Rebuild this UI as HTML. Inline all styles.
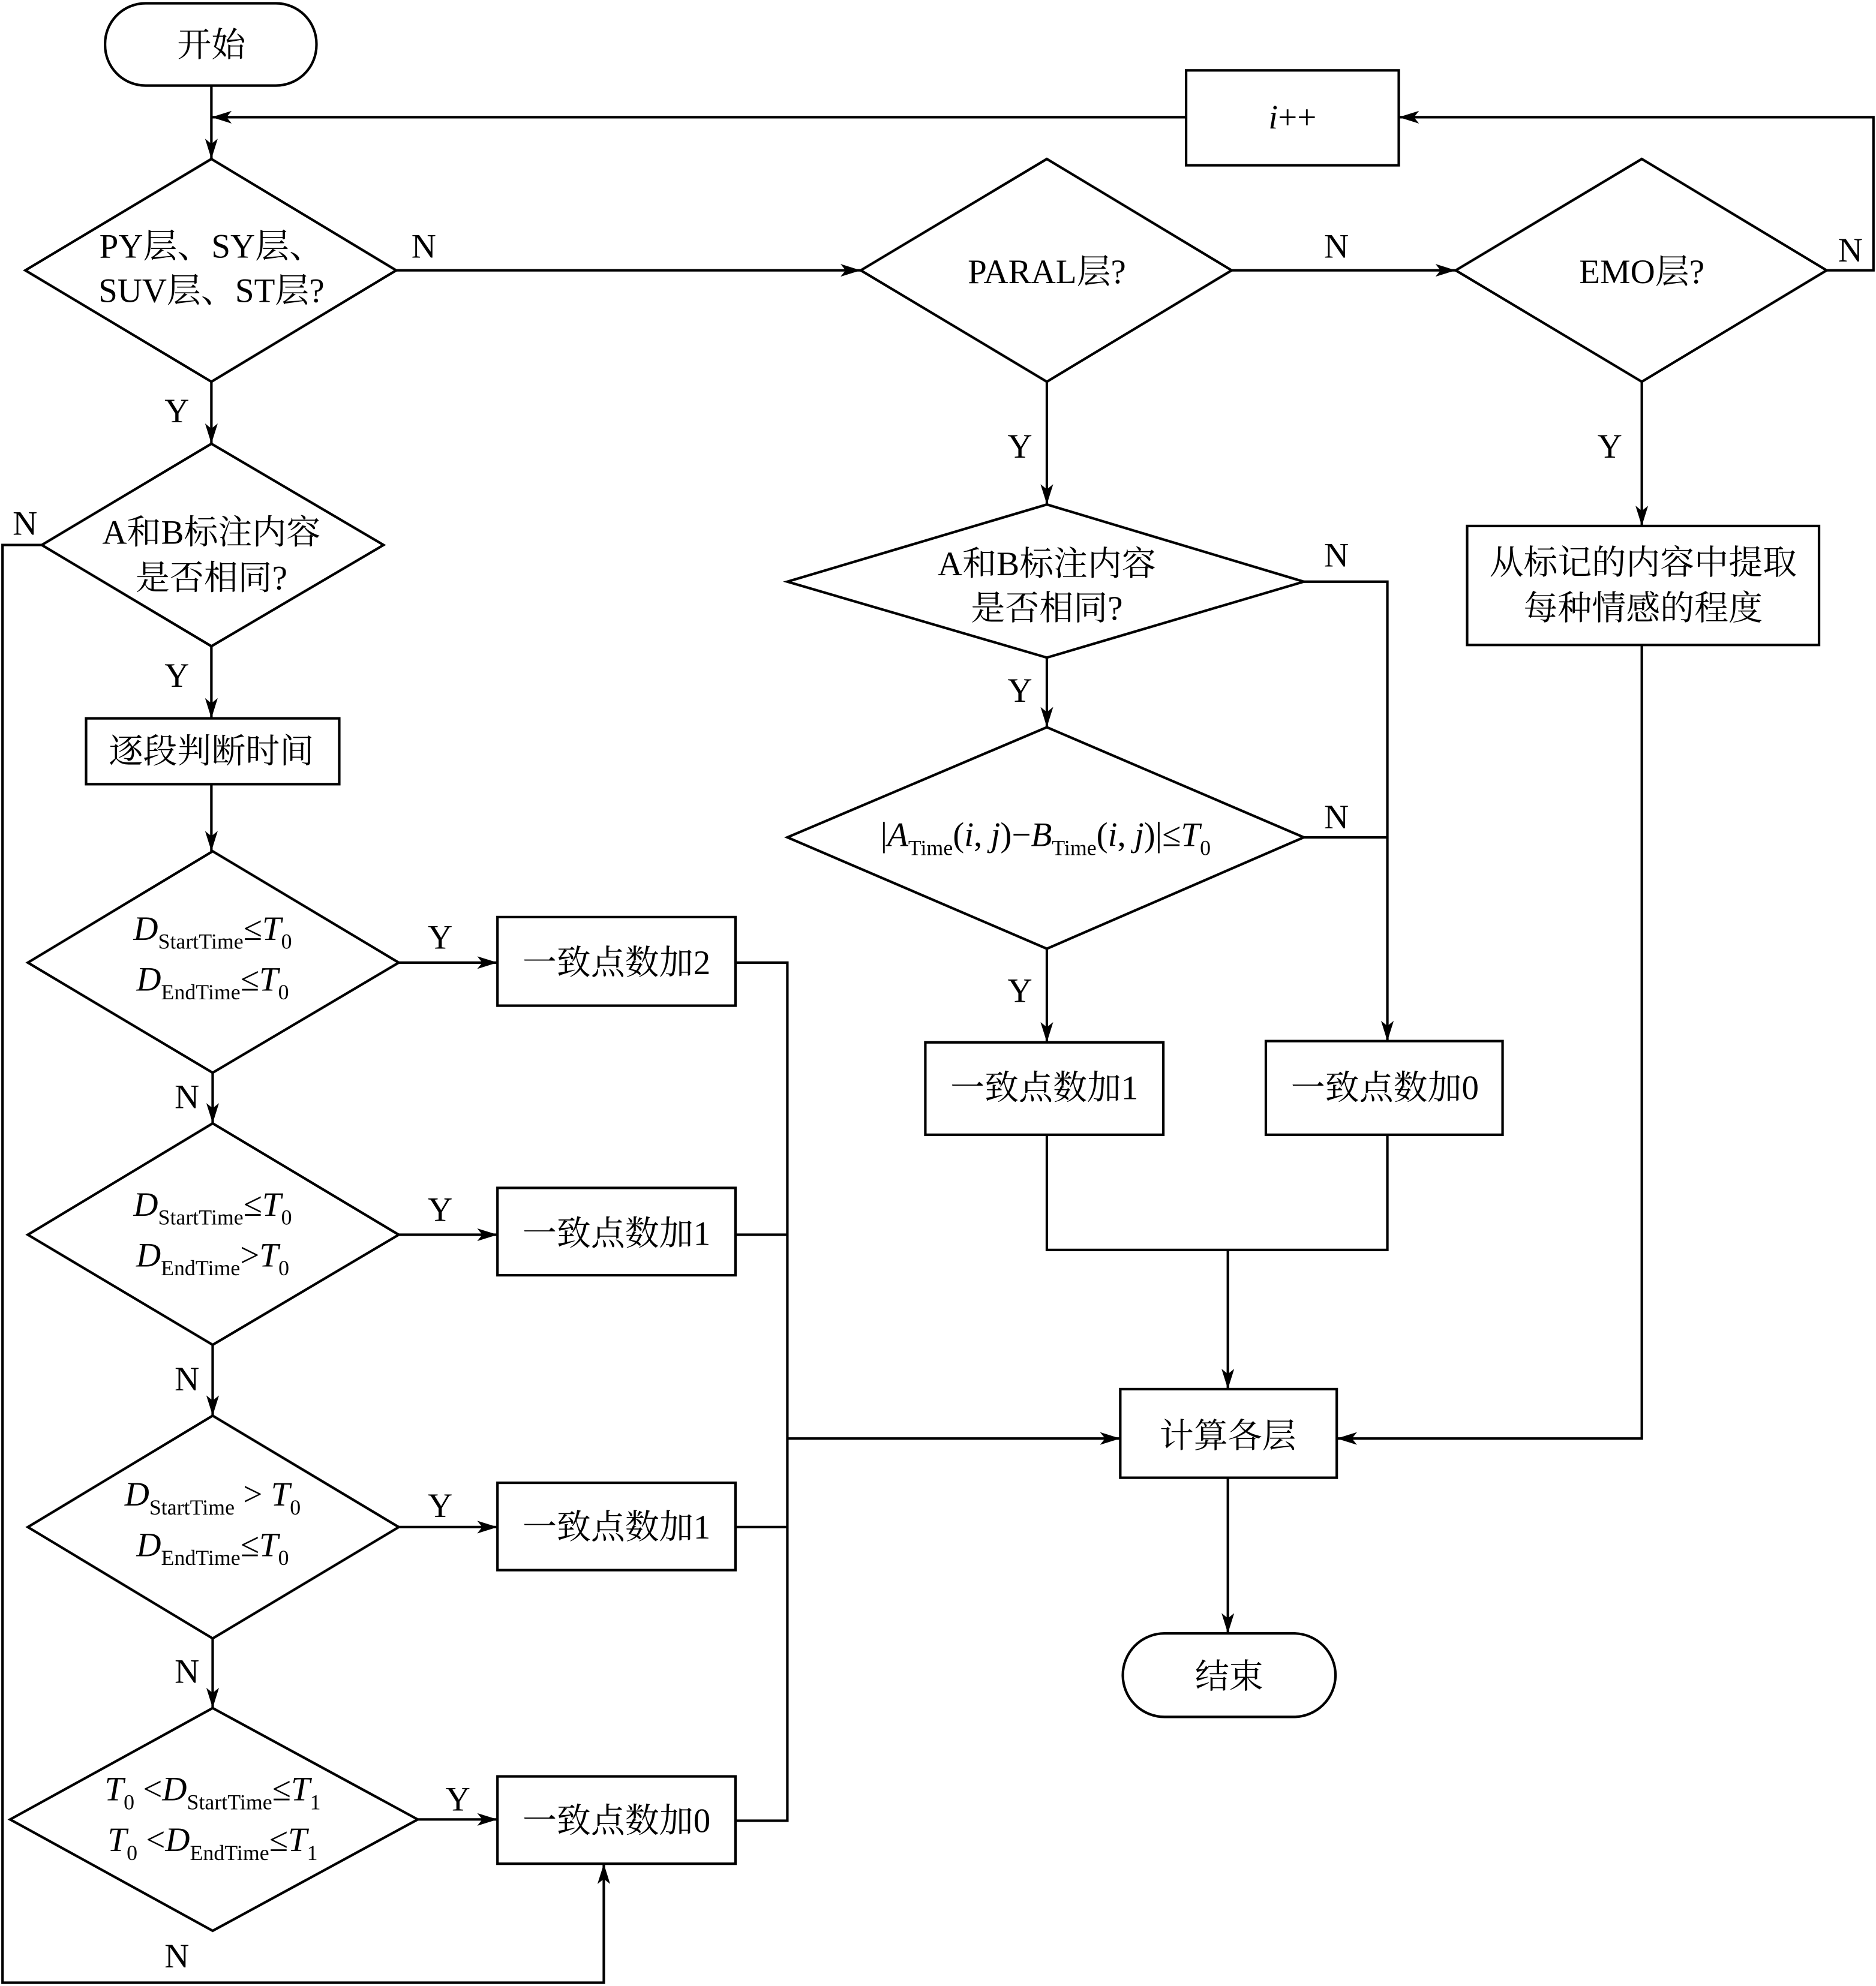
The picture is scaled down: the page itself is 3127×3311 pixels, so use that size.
<!DOCTYPE html>
<html><head><meta charset="utf-8"><style>
html,body{margin:0;padding:0;background:#fff}
svg{display:block}
text{font-family:"Liberation Serif","Noto Serif CJK SC",serif;font-size:27px;fill:#000}
</style></head><body>
<svg width="3127" height="3311" viewBox="0 0 1482 1568" xmlns="http://www.w3.org/2000/svg">
<defs><marker id="a" markerWidth="16" markerHeight="10" refX="16" refY="5" orient="auto" markerUnits="userSpaceOnUse"><path d="M0,0 L16,5 L0,10 L4,5 z" fill="#000"/></marker></defs>
<g fill="none" stroke="#000" stroke-width="2">
<rect x="83" y="2" width="167" height="65" rx="32"/>
<rect x="887" y="1290" width="168" height="66" rx="33"/>
<rect x="937" y="55" width="168" height="75"/>
<rect x="68" y="567" width="200" height="52"/>
<rect x="393" y="724" width="188" height="70"/>
<rect x="393" y="938" width="188" height="69"/>
<rect x="393" y="1171" width="188" height="69"/>
<rect x="393" y="1403" width="188" height="69"/>
<rect x="731" y="823" width="188" height="73"/>
<rect x="1000" y="822" width="187" height="74"/>
<rect x="1159" y="415" width="278" height="94"/>
<rect x="885" y="1097" width="171" height="70"/>
<polygon points="167,125 313,213 167,301 20,213"/>
<polygon points="827,125 973,213 827,301 680,213"/>
<polygon points="1297,125 1443,213 1297,301 1150,213"/>
<polygon points="167,350 303,430 167,510 33,430"/>
<polygon points="168,672 315,760 168,847 22,760"/>
<polygon points="168,887 315,975 168,1062 22,975"/>
<polygon points="168,1118 315,1206 168,1294 22,1206"/>
<polygon points="168,1349 330,1437 168,1525 8,1437"/>
<polygon points="827,398 1030,459 827,519 622,459"/>
<polygon points="827,574 1030,661 827,749 622,661"/>
</g>
<g fill="none" stroke="#000" stroke-width="2">
<line x1="167" y1="67" x2="167" y2="125" marker-end="url(#a)"/>
<line x1="937" y1="92" x2="167" y2="92" marker-end="url(#a)"/>
<polyline points="1443,213 1480,213 1480,92 1105,92" marker-end="url(#a)"/>
<line x1="313" y1="213" x2="680" y2="213" marker-end="url(#a)"/>
<line x1="973" y1="213" x2="1150" y2="213" marker-end="url(#a)"/>
<line x1="167" y1="301" x2="167" y2="350" marker-end="url(#a)"/>
<polyline points="33,430 2,430 2,1566 477,1566 477,1472" marker-end="url(#a)"/>
<line x1="167" y1="510" x2="167" y2="567" marker-end="url(#a)"/>
<line x1="167" y1="619" x2="167" y2="672" marker-end="url(#a)"/>
<line x1="315" y1="760" x2="393" y2="760" marker-end="url(#a)"/>
<line x1="315" y1="975" x2="393" y2="975" marker-end="url(#a)"/>
<line x1="315" y1="1206" x2="393" y2="1206" marker-end="url(#a)"/>
<line x1="330" y1="1437" x2="393" y2="1437" marker-end="url(#a)"/>
<line x1="168" y1="847" x2="168" y2="887" marker-end="url(#a)"/>
<line x1="168" y1="1062" x2="168" y2="1118" marker-end="url(#a)"/>
<line x1="168" y1="1294" x2="168" y2="1349" marker-end="url(#a)"/>
<polyline points="581,760 622,760 622,1438 581,1438"/>
<line x1="581" y1="975" x2="622" y2="975"/>
<line x1="581" y1="1206" x2="622" y2="1206"/>
<line x1="622" y1="1136" x2="885" y2="1136" marker-end="url(#a)"/>
<line x1="827" y1="301" x2="827" y2="398" marker-end="url(#a)"/>
<line x1="827" y1="519" x2="827" y2="574" marker-end="url(#a)"/>
<line x1="827" y1="749" x2="827" y2="823" marker-end="url(#a)"/>
<polyline points="1030,459 1096,459 1096,822" marker-end="url(#a)"/>
<line x1="1030" y1="661" x2="1096" y2="661"/>
<polyline points="827,896 827,987 1096,987 1096,896"/>
<line x1="970" y1="987" x2="970" y2="1097" marker-end="url(#a)"/>
<line x1="1297" y1="301" x2="1297" y2="415" marker-end="url(#a)"/>
<polyline points="1297,509 1297,1136 1056,1136" marker-end="url(#a)"/>
<line x1="970" y1="1167" x2="970" y2="1290" marker-end="url(#a)"/>
</g>
<g text-anchor="middle">
<text x="167" y="44">开始</text>
<text x="971" y="1333">结束</text>
<text x="1021" y="101" font-style="italic">i<tspan font-style="normal">++</tspan></text>
<text x="167" y="203">PY层、SY层、</text>
<text x="167" y="238">SUV层、ST层?</text>
<text x="827" y="223">PARAL层?</text>
<text x="1297" y="223">EMO层?</text>
<text x="167" y="429">A和B标注内容</text>
<text x="167" y="465">是否相同?</text>
<text x="827" y="454">A和B标注内容</text>
<text x="827" y="489">是否相同?</text>
<text x="167" y="602">逐段判断时间</text>
<text x="487" y="769">一致点数加2</text>
<text x="487" y="983">一致点数加1</text>
<text x="487" y="1215">一致点数加1</text>
<text x="487" y="1447">一致点数加0</text>
<text x="825" y="868">一致点数加1</text>
<text x="1094" y="868">一致点数加0</text>
<text x="1298" y="453">从标记的内容中提取</text>
<text x="1298" y="489">每种情感的程度</text>
<text x="970" y="1143">计算各层</text>
<text x="168" y="742"><tspan font-style="italic">D</tspan><tspan font-size="17" dy="7">StartTime</tspan><tspan dy="-7">≤</tspan><tspan font-style="italic">T</tspan><tspan font-size="17" dy="7">0</tspan></text>
<text x="168" y="782"><tspan font-style="italic">D</tspan><tspan font-size="17" dy="7">EndTime</tspan><tspan dy="-7">≤</tspan><tspan font-style="italic">T</tspan><tspan font-size="17" dy="7">0</tspan></text>
<text x="168" y="960"><tspan font-style="italic">D</tspan><tspan font-size="17" dy="7">StartTime</tspan><tspan dy="-7">≤</tspan><tspan font-style="italic">T</tspan><tspan font-size="17" dy="7">0</tspan></text>
<text x="168" y="1000"><tspan font-style="italic">D</tspan><tspan font-size="17" dy="7">EndTime</tspan><tspan dy="-7">&gt;</tspan><tspan font-style="italic">T</tspan><tspan font-size="17" dy="7">0</tspan></text>
<text x="168" y="1189"><tspan font-style="italic">D</tspan><tspan font-size="17" dy="7">StartTime</tspan><tspan dy="-7"> &gt; </tspan><tspan font-style="italic">T</tspan><tspan font-size="17" dy="7">0</tspan></text>
<text x="168" y="1229"><tspan font-style="italic">D</tspan><tspan font-size="17" dy="7">EndTime</tspan><tspan dy="-7">≤</tspan><tspan font-style="italic">T</tspan><tspan font-size="17" dy="7">0</tspan></text>
<text x="168" y="1422"><tspan font-style="italic">T</tspan><tspan font-size="17" dy="7">0</tspan><tspan dy="-7"> &lt;</tspan><tspan font-style="italic">D</tspan><tspan font-size="17" dy="7">StartTime</tspan><tspan dy="-7">≤</tspan><tspan font-style="italic">T</tspan><tspan font-size="17" dy="7">1</tspan></text>
<text x="168" y="1462"><tspan font-style="italic">T</tspan><tspan font-size="17" dy="7">0</tspan><tspan dy="-7"> &lt;</tspan><tspan font-style="italic">D</tspan><tspan font-size="17" dy="7">EndTime</tspan><tspan dy="-7">≤</tspan><tspan font-style="italic">T</tspan><tspan font-size="17" dy="7">1</tspan></text>
<text x="826" y="668">|<tspan font-style="italic">A</tspan><tspan font-size="17" dy="7">Time</tspan><tspan dy="-7">(</tspan><tspan font-style="italic">i</tspan>, <tspan font-style="italic">j</tspan>)−<tspan font-style="italic">B</tspan><tspan font-size="17" dy="7">Time</tspan><tspan dy="-7">(</tspan><tspan font-style="italic">i</tspan>, <tspan font-style="italic">j</tspan>)|≤<tspan font-style="italic">T</tspan><tspan font-size="17" dy="7">0</tspan></text>
</g>
<g>
<text x="325" y="203">N</text>
<text x="1046" y="203">N</text>
<text x="1452" y="206">N</text>
<text x="130" y="333">Y</text>
<text x="10" y="422">N</text>
<text x="130" y="542">Y</text>
<text x="338" y="749">Y</text>
<text x="338" y="964">Y</text>
<text x="338" y="1198">Y</text>
<text x="352" y="1430">Y</text>
<text x="138" y="875">N</text>
<text x="138" y="1098">N</text>
<text x="138" y="1329">N</text>
<text x="130" y="1554">N</text>
<text x="796" y="361">Y</text>
<text x="1046" y="447">N</text>
<text x="796" y="554">Y</text>
<text x="1046" y="654">N</text>
<text x="796" y="791">Y</text>
<text x="1262" y="361">Y</text>
</g>
</svg>
</body></html>
